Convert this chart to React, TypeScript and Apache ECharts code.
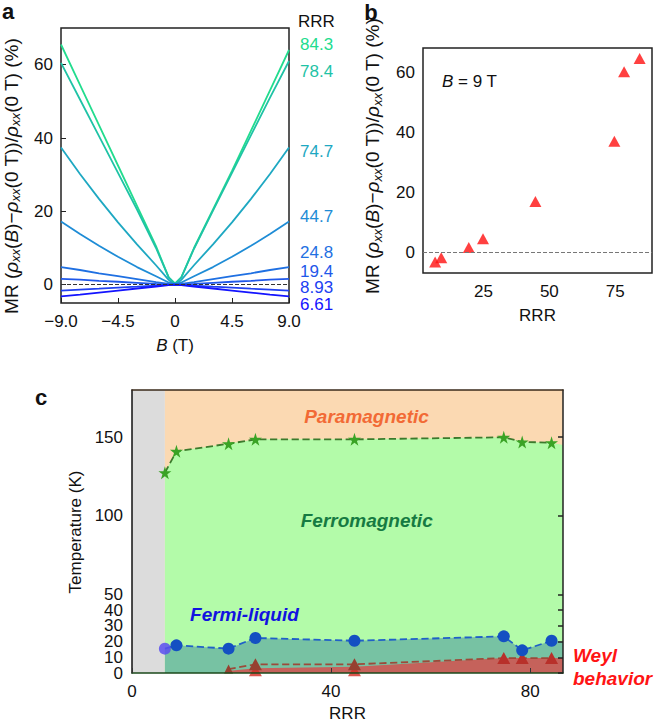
import React, { useEffect, useRef } from "react";
import * as echarts from "echarts";

// ---------- Panel a: MR vs B ----------
const fieldB = [-9, -7.5, -6, -4.5, -3, -1.5, -0.5, 0, 0.5, 1.5, 3, 4.5, 6, 7.5, 9];
const rrrLabels = ["84.3", "78.4", "74.7", "44.7", "24.8", "19.4", "8.93", "6.61"];
const curveColors = ["#22dc8e", "#1fc3a6", "#1ea8c2", "#1e8cd6", "#1f70e2", "#1f58ea", "#2040f2", "#1414ff"];
const mr843 = [65.5, 54.5, 43.5, 32.5, 21.5, 10.5, 2, 0.3, 2, 10, 20.5, 31, 42, 53, 64];
const mr784 = [60.5, 50.5, 40.5, 30.5, 20.5, 10, 2, 0.3, 2, 9.8, 20.2, 30.5, 40.8, 51, 61];
const mr747 = [37.4, 30.2, 23.4, 17, 11, 5.3, 1.3, 0, 1.3, 5.3, 11, 17, 23.4, 30.2, 37.4];
const mr447 = [17.2, 13.8, 10.6, 7.6, 4.8, 2.3, 0.6, 0, 0.6, 2.3, 4.8, 7.6, 10.6, 13.8, 17.2];
const mr248 = [4.8, 4.0, 3.1, 2.3, 1.5, 0.7, 0.2, 0, 0.2, 0.7, 1.5, 2.3, 3.1, 4.0, 4.8];
const mr194 = [1.6, 1.35, 1.05, 0.8, 0.5, 0.2, 0.05, 0, 0.05, 0.2, 0.5, 0.8, 1.05, 1.35, 1.6];
const mr893 = [-1.6, -1.35, -1.1, -0.8, -0.55, -0.25, -0.05, 0, -0.05, -0.25, -0.55, -0.8, -1.1, -1.35, -1.6];
const mr661 = [-3.2, -2.7, -2.15, -1.6, -1.05, -0.5, -0.15, 0, -0.15, -0.5, -1.05, -1.6, -2.15, -2.7, -3.2];
const mrCurves = [mr843, mr784, mr747, mr447, mr248, mr194, mr893, mr661];
const labelYs = [44, 71, 151.5, 216.5, 252.5, 271, 287.5, 304];

// ---------- Panel b: MR at 9 T vs RRR ----------
const rrrValues = [6.61, 8.93, 19.4, 24.8, 44.7, 74.7, 78.4, 84.3];
const mrAt9T = [-3.3, -1.9, 1.5, 4.4, 16.8, 36.9, 60.1, 64.5];

// ---------- Panel c: phase diagram ----------
const rrrMax = 86.6;
const tMax = 180;
const tcValues = [127.4, 141, 145.8, 148.6, 148.6, 149.9, 147, 146.5];
const tcEdge = 145;
const tFermi = [15.5, 17.6, 15.5, 22.3, 20.5, 23.3, 14.4, 20.5];
const fermiEdge = 20;
const weylRRR = [19.4, 24.8, 44.7, 74.7, 78.4, 84.3];
const tWeyl = [2.5, 5.5, 5.5, 9.5, 9.5, 9.5];
const weylAreaRRR = [19.7, 24.8, 44.7, 74.7, 86.6];
const weylAreaT = [1.5, 3, 4, 9.5, 9.5];
const weylLowRRR = [24.8, 44.7];
const weylLowT = [1.5, 1.5];
const tTicks = [0, 10, 20, 30, 40, 50, 100, 150];
const tLabelsEven = [0, 20, 40, 100, 150];
const tLabelsOdd = [10, 30, 50];

const FONT = "'Liberation Sans', Arial, Helvetica, sans-serif";
const STAR = "path://M50,0 L61,35 L98,35 L68,57 L79,91 L50,70 L21,91 L32,57 L2,35 L39,35 Z";

const zip = (xs: number[], ys: number[]) => xs.map((x, i) => [x, ys[i]]);

const mrRich = {
  n: { fontSize: 19, fontFamily: FONT, fill: "#111", lineHeight: 22 },
  i: { fontSize: 19, fontFamily: FONT, fontStyle: "italic", fill: "#111", lineHeight: 22 },
  s: { fontSize: 13, fontFamily: FONT, fontStyle: "italic", fill: "#111", lineHeight: 13, verticalAlign: "bottom" },
};
const mrText = "{n|MR (}{i|ρ}{s|xx}{n|(}{i|B}{n|)−}{i|ρ}{s|xx}{n|(0 T))/}{i|ρ}{s|xx}{n|(0 T) (%)}";

function txt(x: number, y: number, text: string, opts: any = {}) {
  return {
    type: "text",
    x,
    y,
    rotation: opts.rotation || 0,
    z: 100,
    style: {
      text,
      fill: opts.fill || "#111",
      fontSize: opts.fontSize || 17,
      fontFamily: FONT,
      fontWeight: opts.fontWeight || "normal",
      fontStyle: opts.fontStyle || "normal",
      align: opts.align || "center",
      verticalAlign: "middle",
      textAlign: opts.align || "center",
      textVerticalAlign: "middle",
      rich: opts.rich,
    },
  };
}

export default function App() {
  const ref = useRef<HTMLDivElement>(null);
  useEffect(() => {
    if (!ref.current) return;
    const chart = echarts.init(ref.current, undefined, { renderer: "svg" });
    const axisLabelBase = { fontSize: 17, fontFamily: FONT, color: "#111" };

    const seriesA = mrCurves.map((c, k) => ({
      type: "line",
      xAxisIndex: 0,
      yAxisIndex: 0,
      data: zip(fieldB, c),
      showSymbol: false,
      silent: true,
      lineStyle: { width: 1.8, color: curveColors[k] },
      itemStyle: { color: curveColors[k] },
      z: 3,
      markLine:
        k === 0
          ? {
              silent: true,
              symbol: "none",
              label: { show: false },
              lineStyle: { type: "dashed", color: "#333", width: 1 },
              data: [{ yAxis: 0 }],
            }
          : undefined,
    }));

    const areaSeries = (data: number[][], color: string, z = 1) => ({
      type: "line",
      xAxisIndex: 2,
      yAxisIndex: 2,
      data,
      showSymbol: false,
      silent: true,
      lineStyle: { width: 0, opacity: 0 },
      areaStyle: { color, opacity: 1 },
      z,
    });

    const option: any = {
      animation: false,
      backgroundColor: "#fff",
      grid: [
        { left: 61, top: 28, width: 228, height: 275, show: true, borderColor: "#222", borderWidth: 1.5 },
        { left: 423, top: 48, width: 229, height: 225, show: true, borderColor: "#222", borderWidth: 1.5 },
        { left: 132, top: 390, width: 431, height: 283 },
      ],
      xAxis: [
        {
          type: "value", gridIndex: 0, min: -9, max: 9, interval: 4.5,
          axisLine: { show: false, onZero: false },
          axisTick: { show: true, inside: true, length: 5, lineStyle: { color: "#222" } },
          axisLabel: {
            ...axisLabelBase, margin: 10,
            formatter: (v: number) => (v === 0 ? "0" : (v < 0 ? "\u2212" : "") + Math.abs(v).toFixed(1)),
          },
          splitLine: { show: false },
        },
        {
          type: "value", gridIndex: 1, min: 2, max: 89,
          axisLine: { show: false, onZero: false },
          axisTick: { show: false },
          axisLabel: { ...axisLabelBase, margin: 10, customValues: [25, 50, 75] },
          splitLine: { show: false },
        },
        {
          type: "value", gridIndex: 2, min: 0, max: rrrMax, interval: 40, z: 10,
          axisLine: { show: true, onZero: false, lineStyle: { color: "#1b4a1b", width: 1.5 } },
          axisTick: { show: true, inside: true, length: 5, lineStyle: { color: "#333" } },
          axisLabel: { ...axisLabelBase, margin: 10, showMinLabel: true, showMaxLabel: false },
          splitLine: { show: false },
        },
        {
          type: "value", gridIndex: 2, position: "top", min: 0, max: rrrMax, z: 10,
          axisLine: { show: true, onZero: false, lineStyle: { color: "#3a2a1a", width: 1.5 } },
          axisTick: { show: false },
          axisLabel: { show: false },
          splitLine: { show: false },
        },
      ],
      yAxis: [
        {
          type: "value", gridIndex: 0, min: -5, max: 70,
          axisLine: { show: false, onZero: false },
          axisTick: { show: true, inside: true, length: 5, customValues: [0, 20, 40, 60], lineStyle: { color: "#222" } },
          axisLabel: { ...axisLabelBase, margin: 8, customValues: [0, 20, 40, 60] },
          splitLine: { show: false },
        },
        {
          type: "value", gridIndex: 1, min: -7, max: 68,
          axisLine: { show: false, onZero: false },
          axisTick: { show: false },
          axisLabel: { ...axisLabelBase, margin: 8, customValues: [0, 20, 40, 60] },
          splitLine: { show: false },
        },
        {
          type: "value", gridIndex: 2, position: "left", min: 0, max: tMax, z: 10,
          axisLine: { show: true, onZero: false, lineStyle: { color: "#111", width: 1.5 } },
          axisTick: { show: false },
          axisLabel: { ...axisLabelBase, margin: 9, showMinLabel: true, showMaxLabel: true, customValues: tLabelsEven },
          splitLine: { show: false },
        },
        {
          type: "value", gridIndex: 2, position: "right", min: 0, max: tMax, z: 10,
          axisLine: { show: true, onZero: false, lineStyle: { color: "#222", width: 1.5 } },
          axisTick: { show: true, inside: true, length: 5, customValues: tTicks, lineStyle: { color: "#222", width: 1.5 } },
          axisLabel: { show: false },
          splitLine: { show: false },
        },
        {
          type: "value", gridIndex: 2, position: "left", min: 0, max: tMax, z: 10,
          axisLine: { show: false, onZero: false },
          axisTick: { show: false },
          axisLabel: { ...axisLabelBase, margin: 9, showMinLabel: true, showMaxLabel: true, customValues: tLabelsOdd },
          splitLine: { show: false },
        },
      ],
      series: [
        ...seriesA,
        {
          type: "scatter",
          xAxisIndex: 1,
          yAxisIndex: 1,
          data: zip(rrrValues, mrAt9T),
          symbol: "triangle",
          symbolSize: [12, 11],
          itemStyle: { color: "#ff1010" },
          z: 4,
          markLine: {
            silent: true,
            symbol: "none",
            label: { show: false },
            lineStyle: { type: "dashed", color: "#777", width: 1 },
            data: [{ yAxis: 0 }],
          },
        },
        areaSeries([[0, tMax], [rrrValues[0], tMax]], "#dcdcdc"),
        areaSeries([[rrrValues[0], tMax], [rrrMax, tMax]], "#fbd9b2"),
        areaSeries([...zip(rrrValues, tcValues), [rrrMax, tcEdge]], "#b3fba9"),
        areaSeries([...zip(rrrValues, tFermi), [rrrMax, fermiEdge]], "#77c2a3"),
        areaSeries(zip(weylAreaRRR, weylAreaT), "#c5625b"),
        {
          type: "scatter",
          xAxisIndex: 2,
          yAxisIndex: 2,
          data: zip(weylLowRRR, weylLowT),
          symbol: "triangle",
          symbolSize: [13, 11],
          itemStyle: { color: "#d52a22" },
          z: 4,
        },
        {
          type: "line",
          xAxisIndex: 2,
          yAxisIndex: 2,
          data: zip(weylRRR, tWeyl).map((p, i) => ({
            value: p,
            symbolSize: i === 0 ? [9, 9] : [13, 12],
            itemStyle: { color: i < 3 ? "#964030" : "#b8302a" },
          })),
          symbol: "triangle",
          lineStyle: { type: "dashed", color: "#9c4a3a", width: 1.8 },
          z: 5,
        },
        {
          type: "line",
          xAxisIndex: 2,
          yAxisIndex: 2,
          data: zip(rrrValues, tFermi).map((p, i) => ({
            value: p,
            itemStyle: i === 0 ? { color: "#5a4ff0", opacity: 0.85 } : { color: "#1450c2" },
          })),
          symbol: "circle",
          symbolSize: 12,
          lineStyle: { type: "dashed", color: "#2060c8", width: 1.8 },
          z: 6,
        },
        {
          type: "line",
          xAxisIndex: 2,
          yAxisIndex: 2,
          data: zip(rrrValues, tcValues),
          symbol: STAR,
          symbolSize: 13,
          itemStyle: { color: "#3aa325" },
          lineStyle: { type: "dashed", color: "#3c7a2c", width: 1.8 },
          z: 6,
        },
      ],
      graphic: [
        txt(8, 11, "a", { fontSize: 22, fontWeight: "bold" }),
        txt(371, 12, "b", { fontSize: 22, fontWeight: "bold" }),
        txt(41, 397, "c", { fontSize: 22, fontWeight: "bold" }),
        txt(11, 176, mrText, { rotation: Math.PI / 2, rich: mrRich }),
        txt(372.5, 156, mrText, { rotation: Math.PI / 2, rich: mrRich }),
        txt(75, 532, "Temperature (K)", { rotation: Math.PI / 2 }),
        txt(175, 345, "{i|B} (T)", { rich: { i: { fontSize: 17, fontFamily: FONT, fontStyle: "italic", fill: "#111" } } }),
        txt(537.5, 315, "RRR"),
        txt(347.5, 713, "RRR"),
        txt(442, 81.5, "{i|B} = 9 T", { align: "left", rich: { i: { fontSize: 17, fontFamily: FONT, fontStyle: "italic", fill: "#111" } } }),
        txt(298, 21, "RRR", { align: "left" }),
        ...rrrLabels.map((l, k) => txt(300, labelYs[k], l, { align: "left", fill: curveColors[k] })),
        txt(366.5, 416, "Paramagnetic", { fontSize: 19, fontWeight: "bold", fontStyle: "italic", fill: "#f26a35" }),
        txt(366.7, 520, "Ferromagnetic", { fontSize: 19, fontWeight: "bold", fontStyle: "italic", fill: "#167a42" }),
        txt(244.4, 614, "Fermi-liquid", { fontSize: 19, fontWeight: "bold", fontStyle: "italic", fill: "#1212e0" }),
        txt(573, 655.5, "Weyl", { align: "left", fontSize: 19, fontWeight: "bold", fontStyle: "italic", fill: "#ff1414" }),
        txt(573, 678.5, "behavior", { align: "left", fontSize: 19, fontWeight: "bold", fontStyle: "italic", fill: "#ff1414" }),
      ],
    };
    chart.setOption(option);
    return () => chart.dispose();
  }, []);
  return (
    <div
      ref={ref}
      style={{ position: "fixed", left: 0, top: 0, width: 655, height: 723, background: "#fff" }}
    />
  );
}
